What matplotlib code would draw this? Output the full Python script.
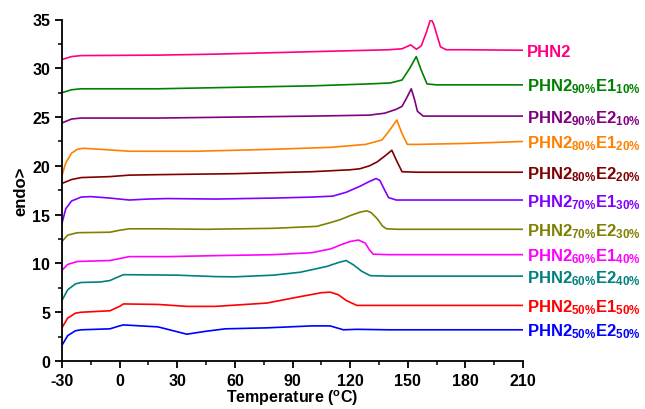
import matplotlib
matplotlib.use("Agg")
import matplotlib.pyplot as plt
from matplotlib.ticker import MultipleLocator

plt.rcParams['font.family'] = 'Liberation Sans'
plt.rcParams['font.weight'] = 'bold'
plt.rcParams['axes.unicode_minus'] = False
plt.rcParams['mathtext.fontset'] = 'custom'
plt.rcParams['mathtext.rm'] = 'Liberation Sans:bold'
plt.rcParams['mathtext.it'] = 'Liberation Sans:bold'
plt.rcParams['mathtext.bf'] = 'Liberation Sans:bold'

# DSC curves (temperature in C, heat flow offset)
t_phn2 = [-30, -25, -20, 20, 50, 90, 120, 140, 147, 151.5, 154.5, 157, 159.5, 162, 163.5, 167, 170, 180, 210]
h_phn2 = [30.9, 31.2, 31.3, 31.35, 31.45, 31.65, 31.8, 31.9, 32.0, 32.4, 31.95, 32.3, 33.6, 35.1, 34.5, 32.2, 31.9, 31.9, 31.85]

t_90e1 = [-30, -25, -20, 20, 60, 100, 130, 141, 147, 151, 154.4, 157, 160, 165, 210]
h_90e1 = [27.5, 27.8, 27.9, 27.9, 28.05, 28.2, 28.4, 28.5, 28.8, 30.0, 31.2, 29.8, 28.4, 28.3, 28.3]

t_90e2 = [-30, -25, -20, 20, 60, 100, 130, 138, 144, 147, 149.5, 151.8, 153.5, 155, 158, 210]
h_90e2 = [24.4, 24.8, 24.9, 24.9, 25.0, 25.1, 25.2, 25.4, 25.8, 26.1, 27.0, 27.9, 26.8, 25.6, 25.1, 25.1]

t_80e1 = [-30, -28, -25, -22, -19, -10, 5, 40, 80, 110, 128, 136.5, 140, 144.3, 147, 149.8, 155, 180, 210]
h_80e1 = [19.0, 20.3, 21.3, 21.7, 21.8, 21.7, 21.5, 21.5, 21.7, 21.9, 22.2, 22.65, 23.5, 24.7, 23.3, 22.2, 22.2, 22.3, 22.5]

t_80e2 = [-30, -25, -20, -5, 5, 20, 60, 100, 120, 125, 130, 134, 138, 141.7, 144, 147, 155, 210]
h_80e2 = [18.2, 18.6, 18.8, 18.9, 19.05, 19.1, 19.2, 19.4, 19.6, 19.7, 20.0, 20.4, 21.0, 21.6, 20.6, 19.4, 19.35, 19.35]

t_70e1 = [-30, -28, -25, -20, -15, -5, 5, 15, 25, 50, 80, 100, 111, 118, 125, 130, 133.5, 135.5, 138, 140, 144, 210]
h_70e1 = [14.1, 15.6, 16.4, 16.8, 16.85, 16.7, 16.5, 16.6, 16.65, 16.6, 16.7, 16.8, 16.9, 17.3, 17.9, 18.4, 18.7, 18.5, 17.5, 16.75, 16.5, 16.5]

t_70e2 = [-30, -27, -22, -5, 0, 5, 20, 45, 80, 102.6, 110, 115, 120, 125, 128.7, 131, 134, 137, 139, 145, 210]
h_70e2 = [12.25, 12.9, 13.15, 13.2, 13.4, 13.55, 13.55, 13.5, 13.6, 13.8, 14.2, 14.5, 14.9, 15.25, 15.4, 15.2, 14.6, 13.8, 13.55, 13.5, 13.5]

t_60e1 = [-30, -27, -22, -5, 0, 5, 25, 50, 80, 100, 110, 115, 120, 124.3, 127.8, 130, 132, 140, 210]
h_60e1 = [9.3, 9.9, 10.2, 10.3, 10.5, 10.7, 10.7, 10.8, 10.9, 11.1, 11.5, 11.9, 12.25, 12.4, 12.1, 11.4, 10.95, 10.9, 10.9]

t_60e2 = [-30, -27, -23, -20, -10, -5, -1, 2, 30, 50, 60, 80, 94, 108, 114, 117.9, 121.7, 126, 130.4, 140, 210]
h_60e2 = [6.2, 7.3, 7.9, 8.05, 8.1, 8.25, 8.6, 8.85, 8.8, 8.65, 8.63, 8.8, 9.1, 9.7, 10.1, 10.3, 9.86, 9.2, 8.75, 8.7, 8.7]

t_50e1 = [-30, -27, -23, -20, -5, 0, 2, 20, 35, 50, 76.6, 94, 105, 109.6, 113.9, 118, 123.5, 140, 210]
h_50e1 = [3.4, 4.4, 4.9, 5.0, 5.15, 5.6, 5.85, 5.8, 5.6, 5.6, 5.94, 6.6, 7.0, 7.06, 6.79, 6.2, 5.7, 5.7, 5.7]

t_50e2 = [-30, -27, -23, -20, -5, 0, 2, 20, 30, 35, 45, 55, 76.6, 100, 109.6, 116.5, 123.5, 140, 210]
h_50e2 = [1.6, 2.6, 3.1, 3.2, 3.3, 3.6, 3.7, 3.5, 3.0, 2.75, 3.05, 3.3, 3.4, 3.6, 3.6, 3.2, 3.25, 3.2, 3.2]

curves = [
    (t_phn2, h_phn2, '#FF0080', 'PHN2'),
    (t_90e1, h_90e1, '#008000', r'PHN2$_{90\%}$E1$_{10\%}$'),
    (t_90e2, h_90e2, '#800080', r'PHN2$_{90\%}$E2$_{10\%}$'),
    (t_80e1, h_80e1, '#FF8000', r'PHN2$_{80\%}$E1$_{20\%}$'),
    (t_80e2, h_80e2, '#800000', r'PHN2$_{80\%}$E2$_{20\%}$'),
    (t_70e1, h_70e1, '#8000FF', r'PHN2$_{70\%}$E1$_{30\%}$'),
    (t_70e2, h_70e2, '#808000', r'PHN2$_{70\%}$E2$_{30\%}$'),
    (t_60e1, h_60e1, '#FF00FF', r'PHN2$_{60\%}$E1$_{40\%}$'),
    (t_60e2, h_60e2, '#008080', r'PHN2$_{60\%}$E2$_{40\%}$'),
    (t_50e1, h_50e1, '#FF0000', r'PHN2$_{50\%}$E1$_{50\%}$'),
    (t_50e2, h_50e2, '#0000FF', r'PHN2$_{50\%}$E2$_{50\%}$'),
]

fig = plt.figure(figsize=(6.45, 4.10), dpi=100)
ax = fig.add_axes([0.096, 0.117, 0.715, 0.833])

for t, h, c, name in curves:
    ax.plot(t, h, color=c, lw=1.2)
    ax.annotate(name, (t[-1], h[-1]), xytext=(3, -4.2), textcoords='offset points',
                ha='left', va='baseline', color=c, fontsize=12, fontweight='bold',
                annotation_clip=False)

ax.set_xlim(-30, 210)
ax.set_ylim(0, 35)
ax.xaxis.set_major_locator(MultipleLocator(30))
ax.xaxis.set_minor_locator(MultipleLocator(15))
ax.yaxis.set_major_locator(MultipleLocator(5))
ax.yaxis.set_minor_locator(MultipleLocator(2.5))

for s in ['top', 'right']:
    ax.spines[s].set_visible(False)
for s in ['left', 'bottom']:
    ax.spines[s].set_linewidth(1.3)

ax.tick_params(which='major', direction='out', length=5, width=1.3, labelsize=11.5)
ax.tick_params(which='minor', direction='out', length=3, width=1.1)
for lab in ax.get_xticklabels() + ax.get_yticklabels():
    lab.set_fontweight('bold')

ax.set_xlabel(r'Temperature ($^{\mathrm{o}}$C)', fontsize=11.5, fontweight='bold', labelpad=0)
ax.set_ylabel('endo>', fontsize=12, fontweight='bold', labelpad=3)

plt.savefig('out.png', dpi=100)
